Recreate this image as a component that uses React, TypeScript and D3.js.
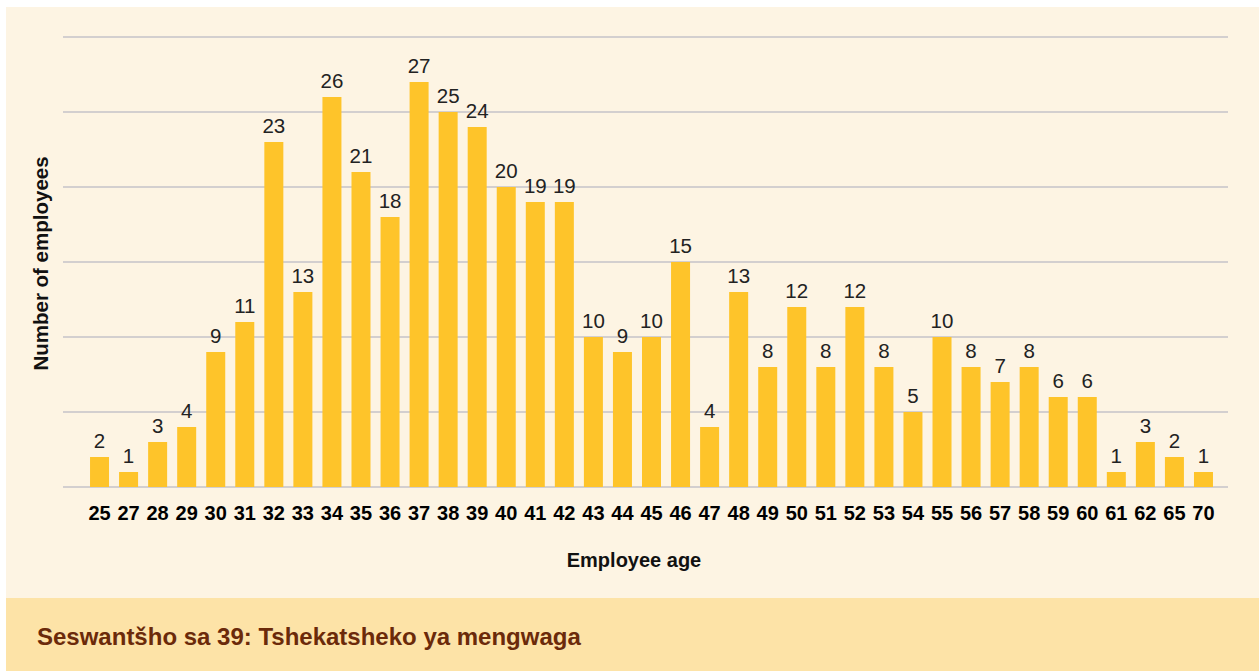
import React from "react";
import * as d3 from "d3";

const ages = ["25","27","28","29","30","31","32","33","34","35","36","37","38","39","40","41","42","43","44","45","46","47","48","49","50","51","52","53","54","55","56","57","58","59","60","61","62","65","70"];
const employees = [2,1,3,4,9,11,23,13,26,21,18,27,25,24,20,19,19,10,9,10,15,4,13,8,12,8,12,8,5,10,8,7,8,6,6,1,3,2,1];
const gridTicks = [0,5,10,15,20,25,30];
const xTitle = "Employee age";
const yTitle = "Number of employees";
const caption = "Seswantšho sa 39: Tshekatsheko ya mengwaga";

const W = 1259, H = 671;
const FONT = "'Liberation Sans', Arial, Helvetica, sans-serif";

export default function App() {
  const x = d3.scaleBand<string>().domain(ages).range([85, 1218]).paddingInner(0.346).paddingOuter(0.173);
  const y = d3.scaleLinear().domain([0, 30]).range([487, 37]);
  return (
    <svg width={W} height={H} style={{ position: "absolute", left: 0, top: 0 }} fontFamily={FONT}>
      <rect x={0} y={0} width={W} height={H} fill="#ffffff" />
      <rect x={6} y={7} width={W - 6} height={591} fill="#fdf4e3" />
      <rect x={6} y={598} width={W - 6} height={H - 598} fill="#fde3a7" />
      {gridTicks.map((t) => (
        <line key={t} x1={63} x2={1228} y1={y(t)} y2={y(t)} stroke="#c4c3c8" strokeWidth={1.5} />
      ))}
      {ages.map((a, i) => (
        <g key={a}>
          <rect x={x(a)} y={y(employees[i])} width={x.bandwidth()} height={y(0) - y(employees[i])} fill="#fec42a" />
          <text x={(x(a) as number) + x.bandwidth() / 2} y={y(employees[i]) - 9} textAnchor="middle" fontSize={20.5} fill="#222">{employees[i]}</text>
          <text x={(x(a) as number) + x.bandwidth() / 2} y={520} textAnchor="middle" fontSize={20} fontWeight="bold" fill="#000">{a}</text>
        </g>
      ))}
      <text x={634} y={567} textAnchor="middle" fontSize={20} fontWeight="bold" fill="#111">{xTitle}</text>
      <text transform="translate(48,263.5) rotate(-90)" textAnchor="middle" fontSize={20.5} fontWeight="bold" fill="#111">{yTitle}</text>
      <text x={37} y={645} fontSize={24} fontWeight="bold" fill="#6b2a0a">{caption}</text>
    </svg>
  );
}
